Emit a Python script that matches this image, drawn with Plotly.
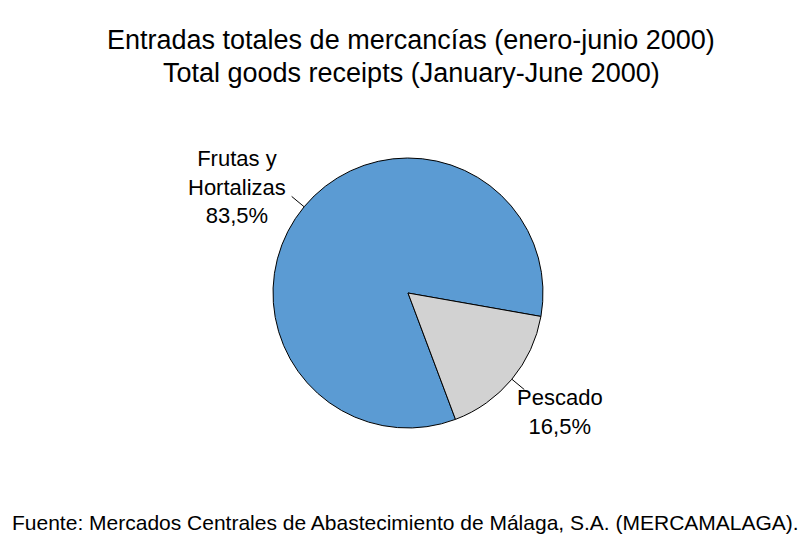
import math
import plotly.graph_objects as go

labels = ["Frutas y<br>Hortalizas", "Pescado"]
values = [83.5, 16.5]
pct_text = ["83,5%", "16,5%"]
colors = ["#5b9bd3", "#d2d2d2"]

title_lines = ["Entradas totales de mercancías (enero-junio 2000)",
               "Total goods receipts (January-June 2000)"]
source_text = "Fuente: Mercados Centrales de Abastecimiento de Málaga, S.A. (MERCAMALAGA)."

W, H = 809, 542
cx, cy, R = 408, 293, 135  # pixel center/radius of pie
rotation = 159.4

FONT = "Liberation Sans, Arial, Helvetica, sans-serif"

fig = go.Figure(go.Pie(
    labels=labels, values=values, sort=False, direction="clockwise",
    rotation=rotation,
    marker=dict(colors=colors, line=dict(color="black", width=1)),
    textinfo="none", hoverinfo="label+percent", showlegend=False,
    domain=dict(x=[(cx - R) / W, (cx + R) / W], y=[(H - cy - R) / H, (H - cy + R) / H]),
))

# labels with leader lines at slice mid-angles
total = sum(values)
start = rotation
label_offsets = [(-55, -9), (36, 22)]
for i, v in enumerate(values):
    ang = start + 360 * v / total / 2
    start += 360 * v / total
    a = math.radians(ang)
    dx, dy = math.sin(a), -math.cos(a)  # screen direction (y down)
    x0, y0 = cx + dx * R * 1.0, cy + dy * R * 1.0
    x1, y1 = cx + dx * R * 1.12, cy + dy * R * 1.12
    fig.add_shape(type="line", xref="paper", yref="paper",
                  x0=x0 / W, y0=1 - y0 / H, x1=x1 / W, y1=1 - y1 / H,
                  line=dict(color="black", width=1))
    ox, oy = label_offsets[i]
    fig.add_annotation(xref="paper", yref="paper",
                       x=(x1 + ox) / W, y=1 - (y1 + oy) / H,
                       text=labels[i] + "<br>" + pct_text[i], showarrow=False,
                       xanchor="center", yanchor="middle",
                       align="center", font=dict(size=22, color="black", family=FONT))

for line, ypx in zip(title_lines, [40, 73]):
    fig.add_annotation(xref="paper", yref="paper", x=411 / W, y=1 - ypx / H,
                       text=line, showarrow=False, xanchor="center", yanchor="middle",
                       font=dict(size=27, color="black", family=FONT))
fig.add_annotation(xref="paper", yref="paper", x=405 / W, y=1 - 522 / H,
                   text=source_text, showarrow=False, xanchor="center", yanchor="middle",
                   font=dict(size=21, color="black", family=FONT))

fig.update_layout(width=W, height=H, margin=dict(l=0, r=0, t=0, b=0),
                  paper_bgcolor="white", plot_bgcolor="white")
fig.write_html("out.html", config={"displayModeBar": False},
               post_script="document.body.style.margin='0';")
